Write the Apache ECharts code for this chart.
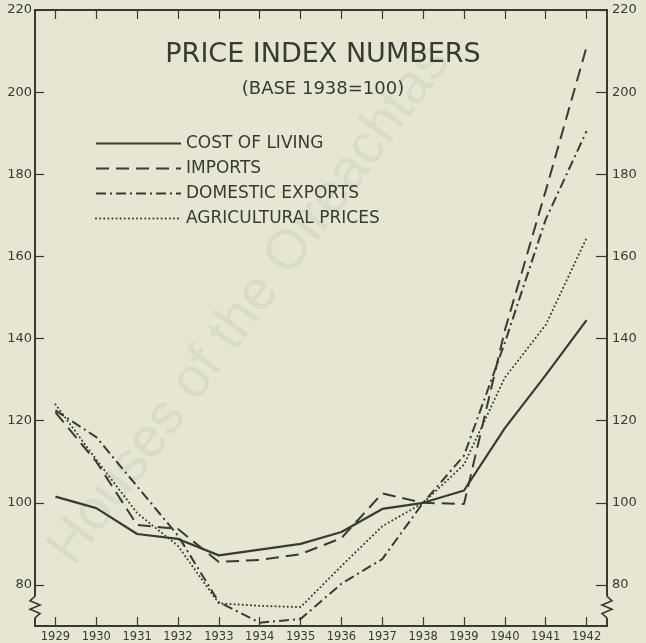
<!DOCTYPE html>
<html>
<head>
<meta charset="utf-8">
<title>Price Index Numbers</title>
<script src="https://cdn.jsdelivr.net/npm/echarts@6/dist/echarts.min.js"></script>
<style>
  html, body { margin: 0; padding: 0; background: #e6e6d3; }
  #chart { width: 646px; height: 643px; }
</style>
</head>
<body>
<div id="chart"></div>
<script>
// Price index numbers, base 1938 = 100
const years = [1929, 1930, 1931, 1932, 1933, 1934, 1935, 1936, 1937, 1938, 1939, 1940, 1941, 1942];
const costOfLiving       = [101.5, 98.7, 92.4, 91.2, 87.2, 88.6, 90.0, 92.9, 98.5, 100, 103.0, 118.2, 131.1, 144.5];
const imports            = [122.0, 110.0, 94.6, 93.6, 85.6, 86.1, 87.5, 91.4, 102.3, 100, 99.7, 142.0, 176.0, 211.0];
const domesticExports    = [122.5, 116.0, 104.0, 92.0, 75.8, 70.8, 71.7, 80.3, 86.3, 100, 111.5, 139.0, 169.0, 190.5];
const agriculturalPrices = [124.0, 110.5, 97.5, 89.5, 75.5, 74.9, 74.6, 84.6, 94.3, 100, 109.3, 130.5, 143.3, 164.5];
const seriesNames = ['COST OF LIVING', 'IMPORTS', 'DOMESTIC EXPORTS', 'AGRICULTURAL PRICES'];
const yTickValues = [80, 100, 120, 140, 160, 180, 200, 220];

const INK = '#3a3a33';
const PAPER = '#e6e6d3';
const FONT = 'DejaVu Sans';

const pairs = vals => years.map((y, i) => [y, vals[i]]);

const chart = echarts.init(document.getElementById('chart'), null, { renderer: 'canvas' });

const xAxisBase = {
  type: 'value',
  min: 1928.5,
  max: 1942.5,
  axisLine: { show: true, lineStyle: { color: INK, width: 2 } },
  axisTick: { show: true, inside: true, length: 9, customValues: years, lineStyle: { color: INK, width: 1.2 } },
  splitLine: { show: false }
};

const yAxisBase = {
  type: 'value',
  min: 70,
  max: 220,
  axisLine: { show: true, lineStyle: { color: INK, width: 2 } },
  axisTick: { show: true, inside: true, length: 9, customValues: yTickValues, lineStyle: { color: INK, width: 1.2 } },
  axisLabel: { show: true, customValues: yTickValues, color: INK, fontSize: 13, fontFamily: FONT },
  splitLine: { show: false }
};

const lineSeries = (name, vals, lineType, extra) => Object.assign({
  name: name,
  type: 'line',
  data: pairs(vals),
  symbol: 'none',
  smooth: false,
  lineStyle: { color: INK, width: 2, type: lineType },
  itemStyle: { color: INK },
  z: 3
}, extra || {});

chart.setOption({
  backgroundColor: PAPER,
  animation: false,
  title: {
    text: 'PRICE INDEX NUMBERS',
    subtext: '(BASE 1938=100)',
    left: 'center',
    top: 36,
    itemGap: 12,
    textStyle: { color: INK, fontSize: 27, fontWeight: 'normal', fontFamily: FONT },
    subtextStyle: { color: INK, fontSize: 18, fontFamily: FONT }
  },
  legend: {
    data: seriesNames,
    orient: 'vertical',
    left: 95,
    top: 135,
    padding: 0,
    itemWidth: 85,
    itemHeight: 14,
    itemGap: 8,
    selectedMode: false,
    itemStyle: { opacity: 0 },
    textStyle: { color: INK, fontSize: 17, fontFamily: FONT }
  },
  grid: { left: 35, right: 39, top: 10, bottom: 17, containLabel: false },
  xAxis: [
    Object.assign({}, xAxisBase, {
      position: 'bottom',
      axisLabel: { show: true, customValues: years, color: INK, fontSize: 11.5, fontFamily: FONT, margin: 5,
        formatter: v => String(v) }
    }),
    Object.assign({}, xAxisBase, {
      position: 'top',
      axisLabel: { show: false }
    })
  ],
  yAxis: [
    Object.assign({}, yAxisBase, { position: 'left', axisLabel: Object.assign({}, yAxisBase.axisLabel, { margin: 3 }) }),
    Object.assign({}, yAxisBase, { position: 'right', axisTick: Object.assign({}, yAxisBase.axisTick, { length: 11 }),
      axisLabel: Object.assign({}, yAxisBase.axisLabel, { margin: 5 }) })
  ],
  series: [
    lineSeries(seriesNames[0], costOfLiving, 'solid', { lineStyle: { color: INK, width: 2.2, type: 'solid' } }),
    lineSeries(seriesNames[1], imports, [13, 7]),
    lineSeries(seriesNames[2], domesticExports, [10, 4, 2, 4]),
    lineSeries(seriesNames[3], agriculturalPrices, [0.1, 4], { lineStyle: { color: INK, width: 2, type: [0.1, 4], cap: 'round' } })
  ]
});

// Broken-scale zigzags on both vertical axes, between 72 and 77
function breakMarks() {
  const yHi = chart.convertToPixel({ yAxisIndex: 0 }, 77.2);
  const yLo = chart.convertToPixel({ yAxisIndex: 0 }, 72);
  const xl = chart.convertToPixel({ xAxisIndex: 0 }, 1928.5);
  const xr = chart.convertToPixel({ xAxisIndex: 0 }, 1942.5);
  const h = yLo - yHi;
  const zig = (x, dir) => [
    [x, yHi], [x - 5 * dir, yHi + h * 0.2], [x + 5 * dir, yHi + h * 0.4],
    [x - 5 * dir, yHi + h * 0.6], [x + 5 * dir, yHi + h * 0.8], [x, yLo]
  ];
  const mark = (x, dir) => [
    { type: 'rect', z: 50, shape: { x: x - 3, y: yHi, width: 6, height: h }, style: { fill: PAPER } },
    { type: 'polyline', z: 51, shape: { points: zig(x, dir) }, style: { stroke: INK, lineWidth: 1.6, fill: null } }
  ];
  return mark(xl, 1).concat(mark(xr, -1));
}

chart.setOption({
  graphic: [
    {
      type: 'text',
      z: -10,
      x: 250,
      y: 305,
      rotation: 0.93,
      style: {
        text: 'Houses of the Oireachtas',
        fill: 'rgba(110, 110, 100, 0.09)',
        font: '56px "Liberation Sans"',
        textAlign: 'center',
        textVerticalAlign: 'middle'
      }
    }
  ].concat(breakMarks())
});
</script>
</body>
</html>
